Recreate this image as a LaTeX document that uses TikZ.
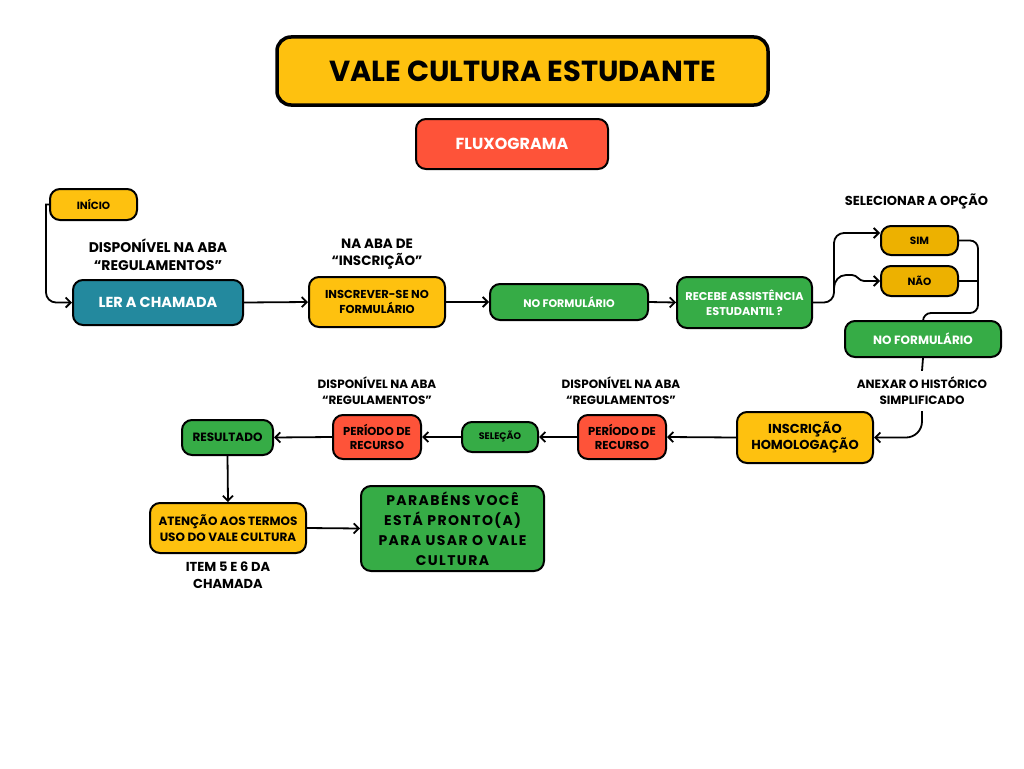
\documentclass[tikz,border=0pt]{standalone}
\usepackage{fontspec}
\setmainfont{Poppins}
\usetikzlibrary{arrows.meta}
\definecolor{cyel}{HTML}{FEC10F}
\definecolor{cred}{HTML}{FE5339}
\definecolor{cteal}{HTML}{23899E}
\definecolor{cgreen}{HTML}{36AC46}
\definecolor{cgold}{HTML}{EDB100}
\tikzset{
  box/.style={draw=black, line width=2pt, rounded corners=10pt, align=center, inner sep=0pt},
  lab/.style={align=center, inner sep=3pt},
  arr/.style={line width=1.8pt, -{Straight Barb[length=5pt,width=10pt]}},
  ln/.style={line width=1.8pt},
}
\newcommand\fz[2]{\fontsize{#1}{#2}\selectfont\bfseries}
\begin{document}
\begin{tikzpicture}[x=1pt,y=-1pt]
\useasboundingbox[fill=white] (0,0) rectangle (1024,768);

% title
\node[box, fill=cyel, line width=3.5pt, rounded corners=14pt, minimum width=491pt, minimum height=68pt, font=\fz{29}{35}] (title) at (522.5,71) {VALE CULTURA ESTUDANTE};
\node[box, fill=cred, minimum width=192pt, minimum height=50pt, text=white, font=\fz{16}{20}] (flux) at (512,144) {FLUXOGRAMA};

% row 1
\node[box, fill=cyel, minimum width=87pt, minimum height=31pt, font=\fz{10.5}{13}] (ini) at (93.5,204.5) {INÍCIO};
\node[box, fill=cteal, minimum width=170pt, minimum height=45pt, text=white, font=\fz{14.5}{18}] (ler) at (158,302.5) {LER A CHAMADA};
\node[box, fill=cyel, minimum width=136pt, minimum height=50pt, font=\fz{11.5}{14.3}] (ins) at (377,302) {INSCREVER-SE NO\\FORMULÁRIO};
\node[box, fill=cgreen, minimum width=158pt, minimum height=36pt, text=white, font=\fz{11}{14}] (nf1) at (569,302) {NO FORMULÁRIO};
\node[box, fill=cgreen, minimum width=135pt, minimum height=51pt, text=white, font=\fz{11.3}{15.3}] (rec) at (744.5,302.5) {RECEBE ASSISTÊNCIA\\ESTUDANTIL ?};
\node[box, fill=cgold, minimum width=77pt, minimum height=29pt, font=\fz{10.5}{13}] (sim) at (919.5,240.5) {SIM};
\node[box, fill=cgold, minimum width=77pt, minimum height=30pt, font=\fz{10.5}{13}] (nao) at (919.5,281) {NÃO};
\node[box, fill=cgreen, minimum width=156pt, minimum height=36pt, text=white, font=\fz{12}{15}] (nf2) at (923,339) {NO FORMULÁRIO};

% row 2
\node[box, fill=cyel, minimum width=136pt, minimum height=51pt, font=\fz{13}{14.7}] (hom) at (805,437.5) {INSCRIÇÃO\\HOMOLOGAÇÃO};
\node[box, fill=cred, minimum width=88pt, minimum height=44pt, font=\fz{11.5}{14}] (per1) at (622,437) {PERÍODO DE\\RECURSO};
\node[box, fill=cgreen, minimum width=76pt, minimum height=30pt, font=\fz{9.5}{12}] (sel) at (500,437) {SELEÇÃO};
\node[box, fill=cred, minimum width=88pt, minimum height=44pt, font=\fz{11.5}{14}] (per2) at (377,437) {PERÍODO DE\\RECURSO};
\node[box, fill=cgreen, minimum width=91pt, minimum height=35pt, font=\fz{12}{15}] (res) at (227.5,437.5) {RESULTADO};

% row 3
\node[box, fill=cyel, minimum width=156pt, minimum height=50pt, font=\fz{12}{16.7}] (ate) at (228,528) {ATENÇÃO AOS TERMOS\\USO DO VALE CULTURA};
\node[box, fill=cgreen, minimum width=183pt, minimum height=85pt, font={\fz{14}{20}\addfontfeatures{LetterSpace=10}}] (par) at (452.5,528.5) {PARABÉNS VOCÊ\\ESTÁ PRONTO(A)\\PARA USAR O VALE\\CULTURA};

% labels
\node[lab, font=\fz{14}{17.7}] (lab1) at (158,255) {DISPONÍVEL NA ABA\\“REGULAMENTOS”};
\node[lab, font=\fz{13.5}{17}] (lab2) at (377,254.5) {NA ABA DE\\“INSCRIÇÃO”};
\node[lab, font=\fz{13}{16}] (lab3) at (916.5,201) {SELECIONAR A OPÇÃO};
\node[lab, font=\fz{12}{16}, inner sep=6pt] (lab4) at (922,391) {ANEXAR O HISTÓRICO\\SIMPLIFICADO};
\node[lab, font=\fz{12}{16}] (lab5) at (621,391) {DISPONÍVEL NA ABA\\“REGULAMENTOS”};
\node[lab, font=\fz{12}{16}] (lab6) at (377,391) {DISPONÍVEL NA ABA\\“REGULAMENTOS”};
\node[lab, font=\fz{13}{17}] (lab7) at (228,575) {ITEM 5 E 6 DA\\CHAMADA};

% connectors
\draw[arr] (ini.west) -- ++(-3,0) [rounded corners=10pt] |- (ler.west);
\draw[arr] (ler.east) -- (ins.west);
\draw[arr] (ins.east) -- (nf1.west);
\draw[arr] (nf1.east) -- (rec.west);
\coordinate (j1) at (834,233);
\coordinate (br) at (834,288);
\coordinate (j2) at (978,313);
\draw[arr, rounded corners=10pt] (rec.east) -| (j1) -- (j1 -| sim.west);
\draw[arr] (br) to[out=90,in=180] (846,275) -- (852,275) to[out=0,in=180] (864,281) -- (nao.west);
\draw[ln, rounded corners=8pt] (sim.east) -| (j2) -| (nf2.north);
\draw[ln] (nao.east) -- (nao.east -| j2);
\draw[ln] (nf2.south) -- (lab4.north);
\draw[arr, rounded corners=16pt] (lab4.south) |- (hom.east);
\draw[arr] (hom.west) -- (per1.east);
\draw[arr] (per1.west) -- (sel.east);
\draw[arr] (sel.west) -- (per2.east);
\draw[arr] (per2.west) -- (res.east);
\draw[arr] (res.south) -- (ate.north);
\draw[arr] (ate.east) -- (par.west);
\end{tikzpicture}
\end{document}
